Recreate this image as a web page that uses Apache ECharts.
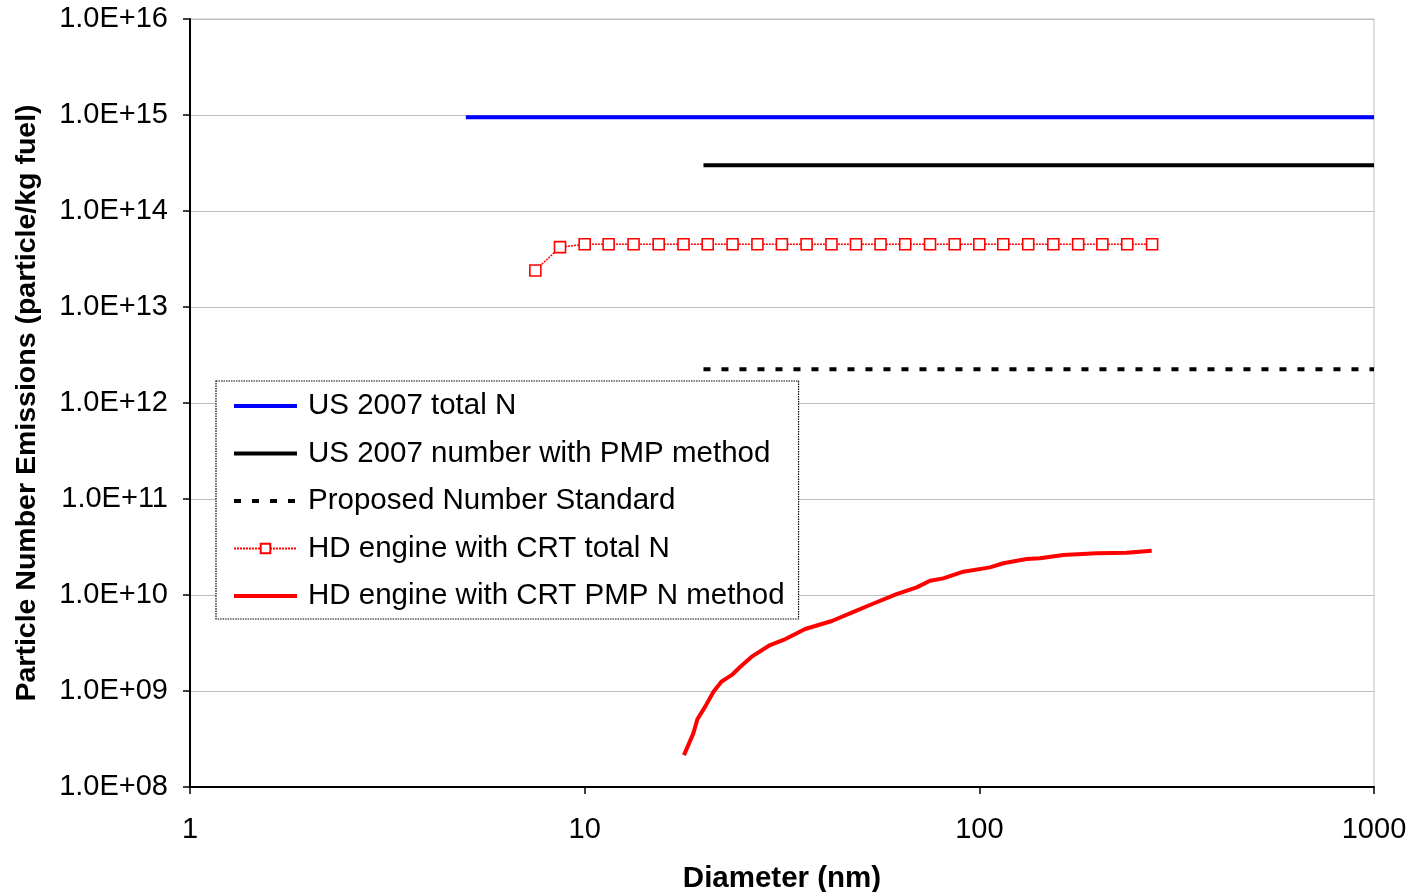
<!DOCTYPE html>
<html>
<head>
<meta charset="utf-8">
<script src="https://cdn.jsdelivr.net/npm/echarts@6/dist/echarts.min.js"></script>
<style>
html,body{margin:0;padding:0;background:#fff;}
#chart{width:1409px;height:892px;}
</style>
</head>
<body>
<div id="chart"></div>
<script>
// ---- data ----
const seriesNames = [
  'US 2007 total N',
  'US 2007 number with PMP method',
  'Proposed Number Standard',
  'HD engine with CRT total N',
  'HD engine with CRT PMP N method'
];
const us2007TotalX = [5, 1000];
const us2007TotalY = [9.5e14, 9.5e14];
const us2007PmpX = [20, 1000];
const us2007PmpY = [3.0e14, 3.0e14];
const proposedX = [20, 1000];
const proposedY = [2.25e12, 2.25e12];
const crtTotalX = [7.50, 8.66, 10.0, 11.5, 13.3, 15.4, 17.8, 20.5, 23.7, 27.4, 31.6, 36.5, 42.2,
  48.7, 56.2, 64.9, 75.0, 86.6, 100, 115, 133, 154, 178, 205, 237, 274];
const crtTotalY = [2.4e13, 4.2e13, 4.5e13, 4.5e13, 4.5e13, 4.5e13, 4.5e13, 4.5e13, 4.5e13, 4.5e13,
  4.5e13, 4.5e13, 4.5e13, 4.5e13, 4.5e13, 4.5e13, 4.5e13, 4.5e13, 4.5e13, 4.5e13, 4.5e13, 4.5e13,
  4.5e13, 4.5e13, 4.5e13, 4.5e13];
const crtPmpX = [17.85, 18.85, 19.3, 20.2, 21.2, 22.2, 23.6, 24.8, 26.5, 29.5, 31.9, 36.2, 42.3,
  47.5, 52.8, 61.7, 69.4, 75.0, 81.0, 91.1, 106.4, 115.0, 131.8, 142.5, 163.2, 198.3, 236.3, 273.4];
const crtPmpY = [2.15e8, 3.62e8, 5.07e8, 6.87e8, 9.84e8, 1.25e9, 1.47e9, 1.79e9, 2.28e9, 3.01e9,
  3.40e9, 4.42e9, 5.36e9, 6.55e9, 7.87e9, 1.02e10, 1.20e10, 1.41e10, 1.49e10, 1.75e10, 1.94e10,
  2.14e10, 2.37e10, 2.41e10, 2.61e10, 2.72e10, 2.76e10, 2.89e10];
const xTickLabels = ['1', '10', '100', '1000'];
const xAxisTitle = 'Diameter (nm)';
const yAxisTitle = 'Particle Number Emissions (particle/kg fuel)';

function pairs(xs, ys) { return xs.map((x, i) => [x, ys[i]]); }

const FONT = '"Liberation Sans", Arial, sans-serif';
const chart = echarts.init(document.getElementById('chart'));
chart.setOption({
  animation: false,
  backgroundColor: '#ffffff',
  grid: {
    left: 190, right: 35, top: 19, bottom: 105,
    outerBoundsMode: 'none', containLabel: false,
    show: true, borderColor: '#bdbdbd', borderWidth: 1
  },
  legend: {
    orient: 'vertical',
    left: 216, top: 381,
    data: [
      { name: seriesNames[0], itemStyle: { opacity: 0 }, lineStyle: { width: 4 } },
      { name: seriesNames[1], itemStyle: { opacity: 0 }, lineStyle: { width: 4 } },
      { name: seriesNames[2], itemStyle: { opacity: 0 }, lineStyle: { width: 4 } },
      { name: seriesNames[3] },
      { name: seriesNames[4], itemStyle: { opacity: 0 }, lineStyle: { width: 4 } }
    ],
    itemWidth: 63, itemHeight: 12, itemGap: 17.5,
    padding: [10, 14, 8, 16],
    borderColor: '#000', borderWidth: 1.2, borderType: [1.5, 1],
    backgroundColor: '#fff',
    textStyle: { fontFamily: FONT, fontSize: 29.5, color: '#000', lineHeight: 29, padding: [0, 0, 0, 6] }
  },
  xAxis: {
    type: 'log', logBase: 10, min: 1, max: 1000,
    name: xAxisTitle, nameLocation: 'middle', nameGap: 77,
    nameTextStyle: { fontFamily: FONT, fontSize: 29.5, fontWeight: 'bold', color: '#000' },
    axisLine: { lineStyle: { color: '#000', width: 2 } },
    axisTick: { show: true, length: 7, lineStyle: { color: '#000', width: 1.5 } },
    minorTick: { show: false },
    splitLine: { show: false },
    axisLabel: {
      fontFamily: FONT, fontSize: 29, color: '#000', margin: 28,
      formatter: function (v) {
        const e = Math.round(Math.log10(v));
        return xTickLabels[e] !== undefined ? xTickLabels[e] : '';
      }
    }
  },
  yAxis: {
    type: 'log', logBase: 10, min: 1e8, max: 1e16, interval: 1,
    name: yAxisTitle, nameLocation: 'middle', nameGap: 148, nameRotate: 90,
    nameTextStyle: { fontFamily: FONT, fontSize: 28.5, fontWeight: 'bold', color: '#000' },
    axisLine: { lineStyle: { color: '#000', width: 2 } },
    axisTick: { show: true, length: 7, lineStyle: { color: '#000', width: 1.5 } },
    splitLine: { show: true, lineStyle: { color: '#bdbdbd', width: 1 } },
    axisLabel: {
      fontFamily: FONT, fontSize: 29, color: '#000', margin: 22,
      formatter: function (v) {
        const e = Math.round(Math.log10(v));
        return '1.0E+' + (e < 10 ? '0' + e : '' + e);
      }
    }
  },
  series: [
    {
      name: seriesNames[0], type: 'line', symbol: 'none',
      data: pairs(us2007TotalX, us2007TotalY),
      lineStyle: { color: '#0000ff', width: 4 }, itemStyle: { color: '#0000ff' }
    },
    {
      name: seriesNames[1], type: 'line', symbol: 'none',
      data: pairs(us2007PmpX, us2007PmpY),
      lineStyle: { color: '#000', width: 4 }, itemStyle: { color: '#000' }
    },
    {
      name: seriesNames[2], type: 'line', symbol: 'none',
      data: pairs(proposedX, proposedY),
      lineStyle: { color: '#000', width: 4, type: [7, 11] }, itemStyle: { color: '#000' }
    },
    {
      name: seriesNames[3], type: 'line', symbol: 'rect', symbolSize: 11,
      data: pairs(crtTotalX, crtTotalY),
      lineStyle: { color: '#ff0000', width: 1.5, type: [2, 1] },
      itemStyle: { color: '#ffffff', borderColor: '#ff0000', borderWidth: 1.6 }
    },
    {
      name: seriesNames[4], type: 'line', symbol: 'none',
      data: pairs(crtPmpX, crtPmpY),
      lineStyle: { color: '#ff0000', width: 4 }, itemStyle: { color: '#ff0000' }
    }
  ]
});
</script>
</body>
</html>
